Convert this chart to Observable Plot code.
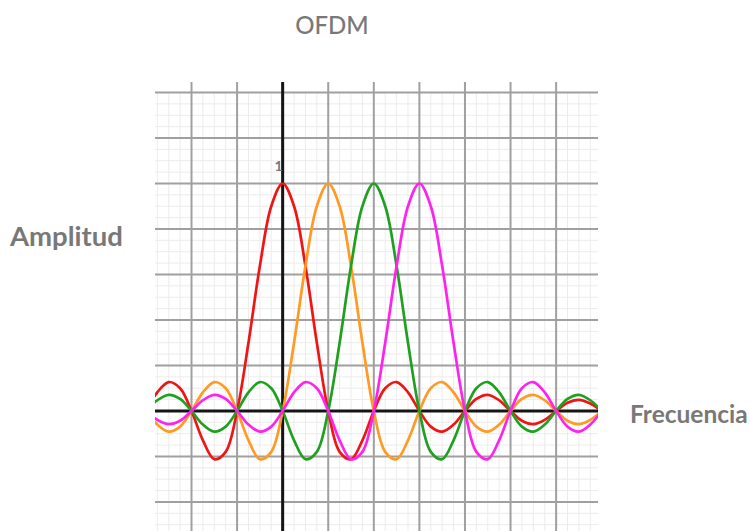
<!DOCTYPE html>
<html>
<head>
<meta charset="utf-8">
<script src="https://cdn.jsdelivr.net/npm/d3@7"></script>
<script src="https://cdn.jsdelivr.net/npm/@observablehq/plot@0.6"></script>
<style>
  html, body { margin: 0; padding: 0; background: #fff; }
  #chart { position: relative; width: 751px; height: 531px; }
</style>
</head>
<body>
<div id="chart"></div>
<script>
// Frequency samples (x) and amplitude of each subcarrier
const freq = [-3,-2.75,-2.5,-2.25,-2,-1.75,-1.5,-1.25,-1,-0.75,-0.5,-0.25,0,0.25,0.5,0.75,1,1.25,1.5,1.75,2,2.25,2.5,2.75,3,3.25,3.5,3.75,4,4.25,4.5,4.75,5,5.25,5.5,5.75,6,6.25,6.5,6.75,7];

const red = [0,0.082,0.127,0.100,0,-0.129,-0.212,-0.180,0,0.300,0.637,0.900,1,0.900,0.637,0.300,0,-0.180,-0.212,-0.129,0,0.100,0.127,0.082,0,-0.069,-0.091,-0.060,0,0.053,0.071,0.047,0,-0.043,-0.058,-0.039,0,0.036,0.049,0.033,0];

const orange = [0,-0.060,-0.091,-0.069,0,0.082,0.127,0.100,0,-0.129,-0.212,-0.180,0,0.300,0.637,0.900,1,0.900,0.637,0.300,0,-0.180,-0.212,-0.129,0,0.100,0.127,0.082,0,-0.069,-0.091,-0.060,0,0.053,0.071,0.047,0,-0.043,-0.058,-0.039,0];

const green = [0,0.047,0.071,0.053,0,-0.060,-0.091,-0.069,0,0.082,0.127,0.100,0,-0.129,-0.212,-0.180,0,0.300,0.637,0.900,1,0.900,0.637,0.300,0,-0.180,-0.212,-0.129,0,0.100,0.127,0.082,0,-0.069,-0.091,-0.060,0,0.053,0.071,0.047,0];

const magenta = [0,-0.039,-0.058,-0.043,0,0.047,0.071,0.053,0,-0.060,-0.091,-0.069,0,0.082,0.127,0.100,0,-0.129,-0.212,-0.180,0,0.300,0.637,0.900,1,0.900,0.637,0.300,0,-0.180,-0.212,-0.129,0,0.100,0.127,0.082,0,-0.069,-0.091,-0.060,0];

const yTickLabels = [1];
const title = "OFDM";
const yLabel = "Amplitud";
const xLabel = "Frecuencia";

const seriesList = [
  {name: "red", values: red, color: "#f01414"},
  {name: "orange", values: orange, color: "#ff9a22"},
  {name: "green", values: green, color: "#20a020"},
  {name: "magenta", values: magenta, color: "#ff22ee"}
];

const xDomain = [-2.79, 6.93];
const yDomain = [-0.53, 1.444];
const gridTop = 1.4;

const minorX = d3.range(-2.75, 6.93, 0.25);
const majorX = d3.range(-2, 7, 1);
const minorY = d3.range(-0.5, 1.401, 0.05);
const majorY = d3.range(-0.4, 1.401, 0.2);

const lineMarks = seriesList.map(s =>
  Plot.line(freq.map((f, i) => ({f, v: s.values[i]})), {
    x: "f", y: "v", stroke: s.color, strokeWidth: 2.7, curve: "catmull-rom", clip: true
  })
);

const chart = Plot.plot({
  width: 751,
  height: 531,
  marginLeft: 155,
  marginRight: 153,
  marginTop: 82,
  marginBottom: 0,
  style: {background: "#fff", overflow: "visible"},
  x: {domain: xDomain, axis: null},
  y: {domain: yDomain, axis: null},
  marks: [
    Plot.ruleX(minorX, {y1: yDomain[0], y2: gridTop, stroke: "#ececec", strokeWidth: 1}),
    Plot.ruleY(minorY, {x1: xDomain[0], x2: xDomain[1], stroke: "#ececec", strokeWidth: 1}),
    Plot.ruleX(majorX, {y1: yDomain[0], y2: yDomain[1], stroke: "#a0a0a0", strokeWidth: 2}),
    Plot.ruleY(majorY, {x1: xDomain[0], x2: xDomain[1], stroke: "#a0a0a0", strokeWidth: 2}),
    Plot.ruleX([0], {stroke: "#151515", strokeWidth: 3}),
    Plot.ruleY([0], {x1: xDomain[0], x2: xDomain[1], stroke: "#151515", strokeWidth: 3}),
    ...lineMarks,
    Plot.text(yTickLabels, {x: 0, y: d => d, text: d => String(d), dx: -4, dy: -17,
      fill: "#777", fontWeight: "bold", fontSize: 14, fontFamily: "Lato"})
  ]
});

document.getElementById("chart").appendChild(chart);

const svg = d3.select(chart);
const addText = (txt, x, y, size, weight, anchor) =>
  svg.append("text").attr("x", x).attr("y", y)
    .attr("font-family", "Lato, 'Open Sans', sans-serif")
    .attr("font-size", size).attr("font-weight", weight)
    .attr("fill", "#787878").attr("text-anchor", anchor || "start").text(txt);

addText(title, 332, 34, 24, 500, "middle");
addText(yLabel, 10, 246, 27.5, 700);
addText(xLabel, 630, 423, 24.5, 700);
</script>
</body>
</html>
